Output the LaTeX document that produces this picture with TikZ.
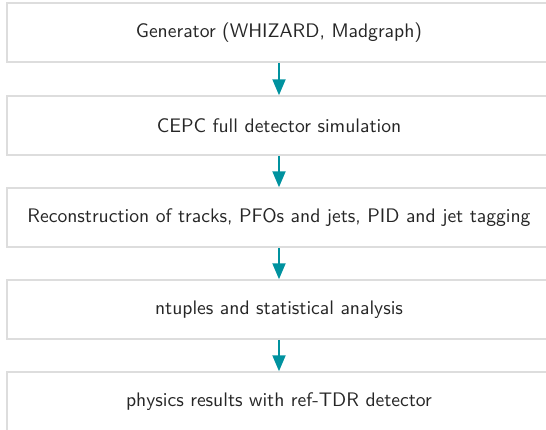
\documentclass[tikz,border=0pt]{standalone}
\usepackage{fontspec}
\newfontfamily\stagefont{lmsans10-regular}[Extension=.otf]
\usetikzlibrary{arrows.meta}
\definecolor{boxline}{HTML}{DDDDDD}
\definecolor{teal}{HTML}{00929F}
\begin{document}
\begin{tikzpicture}[x=1pt,y=-1pt,
  stage/.style={draw=boxline, line width=1.5pt, fill=white, minimum width=544pt, minimum height=59pt, inner sep=0pt, font=\stagefont\fontsize{19.6}{23}\selectfont, text=black!85},
  flow/.style={draw=teal, line width=2pt, -{Triangle[width=13pt,length=16pt]}}]
\useasboundingbox (0,0) rectangle (546,429);
\clip (0,0) rectangle (546,429);
\node[stage] (g) at (279,32.5) {Generator (WHIZARD, Madgraph)};
\node[stage] (s) at (279,125.5) {CEPC full detector simulation};
\node[stage] (r) at (279,217.5) {Reconstruction of tracks, PFOs and jets, PID and jet tagging};
\node[stage] (n) at (279,309.5) {ntuples and statistical analysis};
\node[stage] (p) at (279,401.5) {physics results with ref-TDR detector};
\draw[flow] (g.south) -- (s.north);
\draw[flow] (s.south) -- (r.north);
\draw[flow] (r.south) -- (n.north);
\draw[flow] (n.south) -- (p.north);
\end{tikzpicture}
\end{document}
